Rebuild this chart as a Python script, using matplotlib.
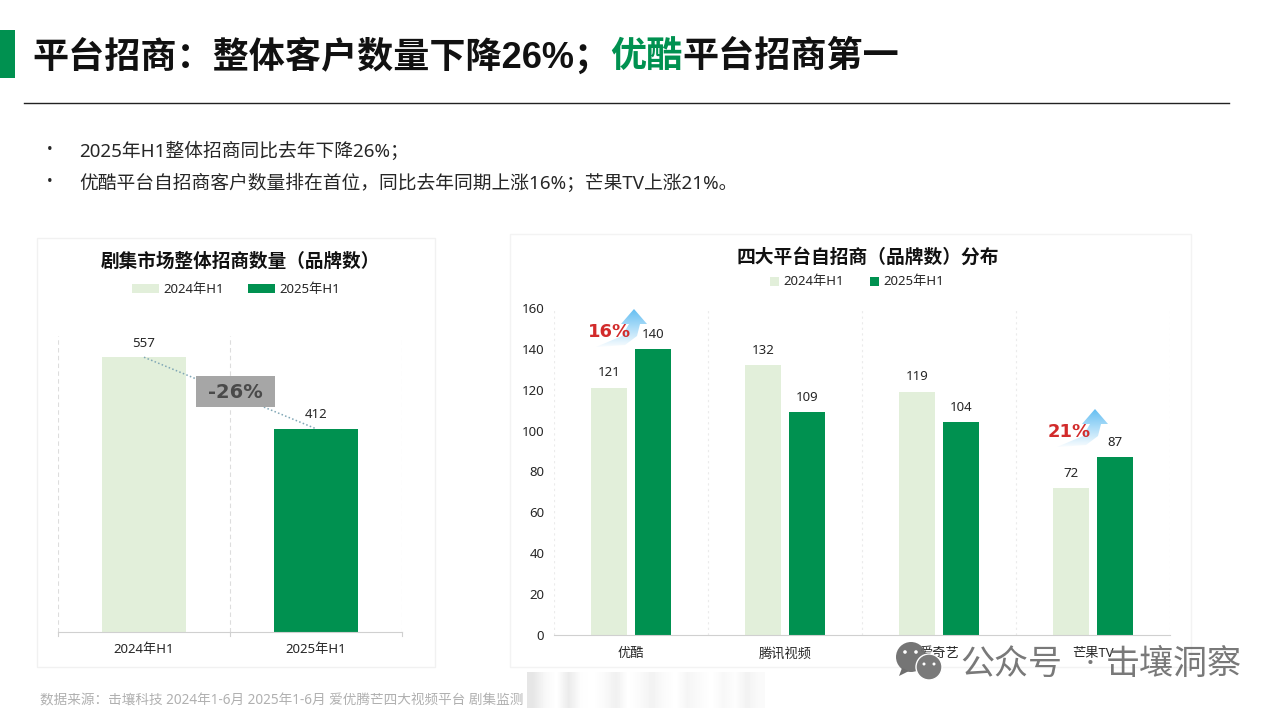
import numpy as np
import matplotlib
matplotlib.use("Agg")
import matplotlib.pyplot as plt
from matplotlib.patches import Rectangle, Polygon, Circle

plt.rcParams['font.family'] = ['Noto Sans', 'Noto Sans CJK SC', 'DejaVu Sans']

# Data
PERIODS      = ["2024年H1", "2025年H1"]
TOTAL_BRANDS = [557, 412]
PLATFORMS    = ["优酷", "腾讯视频", "爱奇艺", "芒果TV"]
BRANDS_2024  = [121, 132, 119, 72]
BRANDS_2025  = [140, 109, 104, 87]
Y_TICKS      = [0, 20, 40, 60, 80, 100, 120, 140, 160]
BULLETS      = ["2025年H1整体招商同比去年下降26%；",
                "优酷平台自招商客户数量排在首位，同比去年同期上涨16%；芒果TV上涨21%。"]
SMEAR_GREYS  = [0.90, 0.97, 1.0, 0.92, 0.99, 1.0, 0.98, 0.94, 1.0, 0.98, 0.95,
                0.98, 1.0, 0.96, 0.98, 1.0, 0.97, 0.99, 0.95, 0.98]

# Constants
LIGHT_GREEN = "#E2EFDA"
DARK_GREEN  = "#009150"
GRID_COLOUR = "#DDDDDD"
TEXT_COLOUR = "#262626"
TITLE_FONT  = ['Liberation Sans', 'Noto Sans CJK SC', 'DejaVu Sans']
W, H = 1280, 720

fig = plt.figure(figsize=(W/100, H/100), dpi=100, facecolor="white")

# Page layer in pixel coordinates
page = fig.add_axes([0, 0, 1, 1], zorder=0)
page.set_xlim(0, W)
page.set_ylim(H, 0)
page.axis("off")

# Top layer for what sits above the charts
top = fig.add_axes([0, 0, 1, 1], zorder=5)
top.set_xlim(0, W)
top.set_ylim(H, 0)
top.axis("off")
top.patch.set_alpha(0)

# Makes axes from pixel edges
def pixel_axes(left, right, y_top, y_bottom):
    ax = fig.add_axes([left/W, 1 - y_bottom/H, (right - left)/W, (y_bottom - y_top)/H], zorder=2)
    ax.patch.set_alpha(0)
    for side in ["top", "left", "right"]:
        ax.spines[side].set_visible(False)
    ax.spines["bottom"].set_color("#D0D0D0")
    return ax

# Title and header
page.add_patch(Rectangle((0, 30), 15, 48, color=DARK_GREEN, lw=0))
t1 = page.text(32, 57, "平台招商：整体客户数量下降26%；", fontsize=26, fontweight="bold", family=TITLE_FONT, color="#111111", va="center")
fig.canvas.draw()
box = t1.get_window_extent()
t2 = page.text(box.x1, 57, "优酷", fontsize=26, fontweight="bold", family=TITLE_FONT, color=DARK_GREEN, va="center")
box = t2.get_window_extent()
page.text(box.x1, 57, "平台招商第一", fontsize=26, fontweight="bold", family=TITLE_FONT, color="#111111", va="center")
page.plot([24, 1229], [102.5, 102.5], color="#222222", lw=1)

# Bullets
for y, line in zip([151, 183], BULLETS):
    page.text(47, y, "•", fontsize=11, color=TEXT_COLOUR, va="center")
    page.text(79, y, line, fontsize=13.5, color=TEXT_COLOUR, va="center")

# Cards
page.add_patch(Rectangle((37, 238), 398, 429, fc="white", ec="#F1F1F1", lw=1))
page.add_patch(Rectangle((510, 234), 681, 433, fc="white", ec="#F3F3F3", lw=1))

# Card titles and legends
page.text(240, 262, "剧集市场整体招商数量（品牌数）", fontsize=13.4, fontweight="bold", color="#111111", ha="center", va="center")
page.text(868, 257, "四大平台自招商（品牌数）分布", fontsize=13.5, fontweight="bold", color="#111111", ha="center", va="center")

page.add_patch(Rectangle((132, 284), 27, 9, color=LIGHT_GREEN, lw=0))
page.text(163, 290, PERIODS[0], fontsize=9.5, color=TEXT_COLOUR, va="center")
page.add_patch(Rectangle((248, 284), 27, 9, color=DARK_GREEN, lw=0))
page.text(279, 290, PERIODS[1], fontsize=9.5, color=TEXT_COLOUR, va="center")

page.add_patch(Rectangle((770, 277), 9, 9, color=LIGHT_GREEN, lw=0))
page.text(783, 282, PERIODS[0], fontsize=9.5, color=TEXT_COLOUR, va="center")
page.add_patch(Rectangle((870, 277), 9, 9, color=DARK_GREEN, lw=0))
page.text(883, 282, PERIODS[1], fontsize=9.5, color=TEXT_COLOUR, va="center")

# Left chart
ax1 = pixel_axes(58, 402, 336, 632)
ax1.bar([0, 1], TOTAL_BRANDS, width=0.49, color=[LIGHT_GREEN, DARK_GREEN], zorder=2)
ax1.set_xlim(-0.5, 1.5)
ax1.set_ylim(0, 600)
ax1.set_yticks([])
ax1.set_xticks([0, 1])
ax1.set_xticklabels(PERIODS, fontsize=9.5, color=TEXT_COLOUR)
ax1.tick_params(axis="x", length=0, pad=8)
for x in [-0.5, 0.5, 1.5]:
    ax1.axvline(x, color=GRID_COLOUR, lw=0.8, ls=(0, (4, 3)), zorder=1)
    ax1.plot([x, x], [0, -9], color="#D0D0D0", lw=0.8, clip_on=False)
for i, value in enumerate(TOTAL_BRANDS):
    ax1.annotate(str(value), (i, value), xytext=(0, 5.5), textcoords="offset points",
                 ha="center", va="bottom", fontsize=9.5, color=TEXT_COLOUR)
ax1.plot([0, 1], TOTAL_BRANDS, color="#7FA6B5", lw=1.1, ls=(0, (1, 1.5)), zorder=3)

# Right chart
ax2 = pixel_axes(554, 1170, 308, 635)
offset = 0.143
x_pos = np.arange(len(PLATFORMS))
ax2.bar(x_pos - offset, BRANDS_2024, width=0.232, color=LIGHT_GREEN, zorder=2)
ax2.bar(x_pos + offset, BRANDS_2025, width=0.232, color=DARK_GREEN, zorder=2)
ax2.set_xlim(-0.5, 3.5)
ax2.set_ylim(0, 160)
ax2.set_yticks(Y_TICKS)
ax2.set_xticks(x_pos)
ax2.set_xticklabels(PLATFORMS, fontsize=9.5, color=TEXT_COLOUR)
ax2.tick_params(axis="x", length=0, pad=9)
ax2.tick_params(axis="y", length=0, pad=7, labelsize=9.5, labelcolor=TEXT_COLOUR)
for x in np.arange(-0.5, 4):
    ax2.axvline(x, color="#EBEBEB", lw=0.8, ls=(0, (2, 3)), zorder=1)
for i in x_pos:
    ax2.annotate(str(BRANDS_2024[i]), (i - offset, BRANDS_2024[i]), xytext=(0, 6), textcoords="offset points",
                 ha="center", va="bottom", fontsize=9.5, color=TEXT_COLOUR)
    ax2.annotate(str(BRANDS_2025[i]), (i + offset, BRANDS_2025[i]), xytext=(0, 6), textcoords="offset points",
                 ha="center", va="bottom", fontsize=9.5, color=TEXT_COLOUR)

# Grey change box on the left chart
top.add_patch(Rectangle((196, 376), 79, 31, color="#A6A6A6", lw=0))
top.text(235.5, 393, "-26%", fontsize=14, fontweight="bold", family="DejaVu Sans", color="#4A4A4A", ha="center", va="center")

# Rising arrow with a blue fade
def rise_arrow(tip_x, tip_y):
    outline = [(tip_x, tip_y), (tip_x + 13, tip_y + 15), (tip_x + 6, tip_y + 15), (tip_x + 3, tip_y + 27),
               (tip_x - 9, tip_y + 36), (tip_x - 38, tip_y + 38), (tip_x - 12, tip_y + 27), (tip_x - 5, tip_y + 15), (tip_x - 13, tip_y + 15)]
    shape = Polygon(outline, closed=True, fc="none", ec="none")
    top.add_patch(shape)
    fade = np.linspace(0, 1, 40).reshape(-1, 1, 1)
    colours = (1 - fade)*np.array([0.40, 0.75, 0.95]) + fade*np.array([1.0, 1.0, 1.0])
    img = top.imshow(colours, extent=[tip_x - 40, tip_x + 15, tip_y + 40, tip_y], aspect="auto", zorder=3)
    img.set_clip_path(shape)

rise_arrow(634, 309)
rise_arrow(1095, 409)
top.set_xlim(0, W)
top.set_ylim(H, 0)
top.text(610, 332, "16%", fontsize=13, fontweight="bold", family="DejaVu Sans", color="#D22B2B", ha="center", va="center", zorder=4)
top.text(1069, 432, "21%", fontsize=13, fontweight="bold", family="DejaVu Sans", color="#D22B2B", ha="center", va="center", zorder=4)

# Footer
page.text(40, 701, "数据来源：击壤科技 2024年1-6月 2025年1-6月 爱优腾芒四大视频平台 剧集监测", fontsize=9.8, color="#B0B0B0", va="center")
smear = np.array(SMEAR_GREYS).reshape(1, -1)
top.imshow(smear, extent=[527, 765, 708, 672], cmap="gray", vmin=0, vmax=1, aspect="auto", zorder=2, interpolation="bilinear")
top.set_xlim(0, W)
top.set_ylim(H, 0)

# Watermark
top.add_patch(Circle((911, 657), 15, color="#6E6E6E", lw=0, alpha=0.95, zorder=4))
top.add_patch(Polygon([(902, 668), (899, 676), (909, 671)], closed=True, color="#6E6E6E", lw=0, zorder=4))
top.add_patch(Circle((929, 667), 13, color="#7A7A7A", ec="white", lw=1, zorder=4))
for x, y in [(905, 652), (916, 652)]:
    top.add_patch(Circle((x, y), 1.8, color="white", lw=0, zorder=5))
for x, y in [(924, 664), (934, 664)]:
    top.add_patch(Circle((x, y), 1.5, color="white", lw=0, zorder=5))
top.text(960, 665, "公众号", fontsize=24.5, color="#6A6A6A", alpha=0.9, ha="left", va="center", zorder=4)
top.text(1090, 665, "·", fontsize=24, color="#6A6A6A", alpha=0.9, ha="center", va="center", zorder=4)
top.text(1242, 665, "击壤洞察", fontsize=24.5, color="#6A6A6A", alpha=0.9, ha="right", va="center", zorder=4)

fig.savefig("out.png", dpi=100)
